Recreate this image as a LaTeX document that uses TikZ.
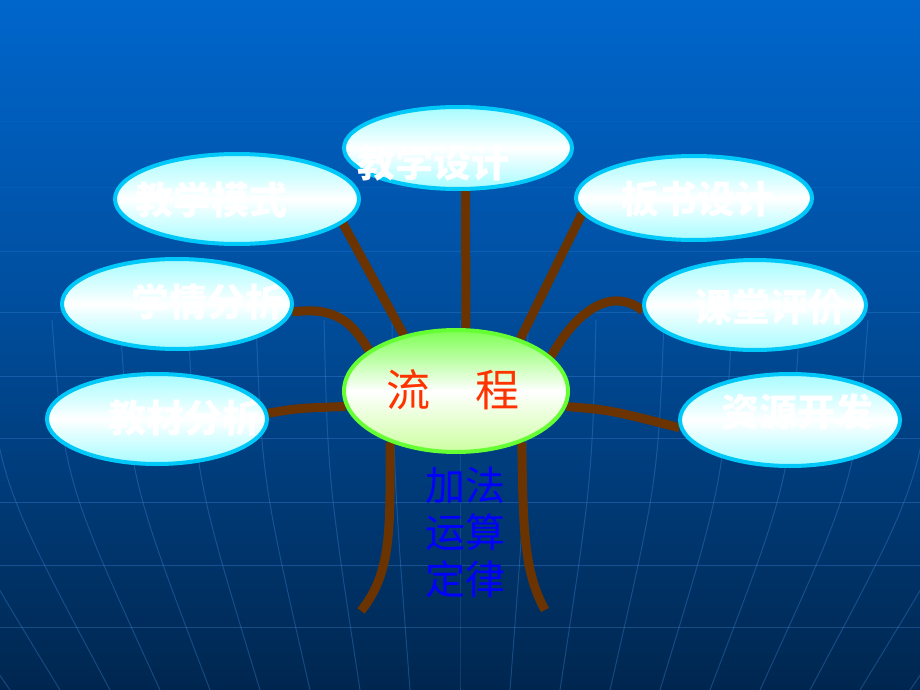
\documentclass[tikz,border=0pt]{standalone}
\usepackage{fontspec}
\newfontfamily\cjk{Noto Sans CJK SC}
\usetikzlibrary{shapes.geometric}
\pgfdeclarelayer{background}
\pgfsetlayers{background,main}
\definecolor{bgtop}{HTML}{0066CC}
\definecolor{bgmid}{HTML}{004E9E}
\definecolor{bgbot}{HTML}{00264F}
\definecolor{gridline}{HTML}{4A96E8}
\definecolor{galho}{HTML}{6B3300}
\definecolor{rim}{HTML}{00C8F8}
\definecolor{palecyan}{HTML}{A6FCFF}
\definecolor{limerim}{HTML}{66FF33}
\definecolor{palelime}{HTML}{CCFFA0}
\definecolor{flowred}{HTML}{FF3300}
\begin{document}
\begin{tikzpicture}[x=1pt,y=-1pt,
  bubble/.style={ellipse,draw=rim,line width=4pt,top color=palecyan,bottom color=palecyan,middle color=white,inner sep=0pt},
  rotulo/.style={text=white,font=\cjk\bfseries\fontsize{38pt}{38pt}\selectfont},
  branch/.style={galho,line width=9pt}]
  \useasboundingbox (0,0) rectangle (920,690);
  \clip (0,0) rectangle (920,690);

  % fundo
  \begin{pgfonlayer}{background}
    \fill[top color=bgtop,bottom color=bgmid] (0,0) rectangle (920,300);
    \fill[top color=bgmid,bottom color=bgbot] (0,300) rectangle (920,690);
    \foreach \y/\o in {122/0.08,187/0.12,251/0.2,312/0.25,376/0.3,438/0.3,502/0.3,565/0.3,627/0.3}
      \draw[gridline,opacity=\o,line width=1pt] (0,\y) -- (920,\y);
    \foreach \k in {-9,...,9}
      \draw[gridline,opacity=0.3,line width=1pt] (460+\k*68,320) .. controls (460+\k*66,480) .. (460+\k*50,690);
  \end{pgfonlayer}

  % elipses
  \node[bubble,minimum width=228pt,minimum height=82pt] (sheji) at (458,148) {};
  \node[bubble,minimum width=244pt,minimum height=90pt] (modo) at (237,199) {};
  \node[bubble,minimum width=230pt,minimum height=90pt] (xueqing) at (177,304) {};
  \node[bubble,minimum width=220pt,minimum height=90pt] (jiaocai) at (157,419) {};
  \node[bubble,minimum width=236pt,minimum height=84pt] (banshu) at (694,198) {};
  \node[bubble,minimum width=222pt,minimum height=90pt] (pingjia) at (755,305) {};
  \node[bubble,minimum width=220pt,minimum height=92pt] (ziyuan) at (790,420) {};
  \node[ellipse,draw=limerim,line width=4pt,top color=limerim!85!white,bottom color=palelime,middle color=white,
        inner sep=0pt,minimum width=224pt,minimum height=122pt] (liucheng) at (456,391) {};

  % textos
  \node[rotulo] (sheji-t) at (433,163) {教学设计};
  \node[rotulo] (modo-t) at (211,200) {教学模式};
  \node[rotulo] (xueqing-t) at (207,302) {学情分析};
  \node[rotulo] (jiaocai-t) at (184,418) {教材分析};
  \node[rotulo] (banshu-t) at (697,199) {板书设计};
  \node[rotulo] (pingjia-t) at (770,307) {课堂评价};
  \node[rotulo] (ziyuan-t) at (797,412) {资源开发};
  \node[text=flowred,font=\cjk\fontsize{44pt}{44pt}\selectfont] (liucheng-t) at (453,390) {流\hspace{46pt}程};
  \node[text=blue,align=center,font=\cjk\fontsize{40pt}{47pt}\selectfont] (tema) at (465,532) {加法\\运算\\定律};

  % galhos
  \coordinate (pe1) at (361,611);
  \coordinate (pe2) at (545,610);
  \begin{pgfonlayer}{background}
    \draw[branch] (sheji.-80) -- (liucheng.81);
    \draw[branch] (modo.-13) -- (liucheng.133);
    \draw[branch] (banshu.188) -- (liucheng.39);
    \draw[branch] (xueqing.-4) .. controls (335,306) and (352,322) .. (liucheng.155);
    \draw[branch] (pingjia.183) .. controls (615,288) and (580,305) .. (liucheng.20);
    \draw[branch] (jiaocai.3) .. controls (300,408) .. (liucheng.188);
    \draw[branch] (ziyuan.184) .. controls (610,410) .. (liucheng.-8);
    \draw[branch] (liucheng.218) .. controls (390,530) and (392,572) .. (pe1);
    \draw[branch] (liucheng.-38) .. controls (523,530) and (524,572) .. (pe2);
  \end{pgfonlayer}
\end{tikzpicture}
\end{document}
